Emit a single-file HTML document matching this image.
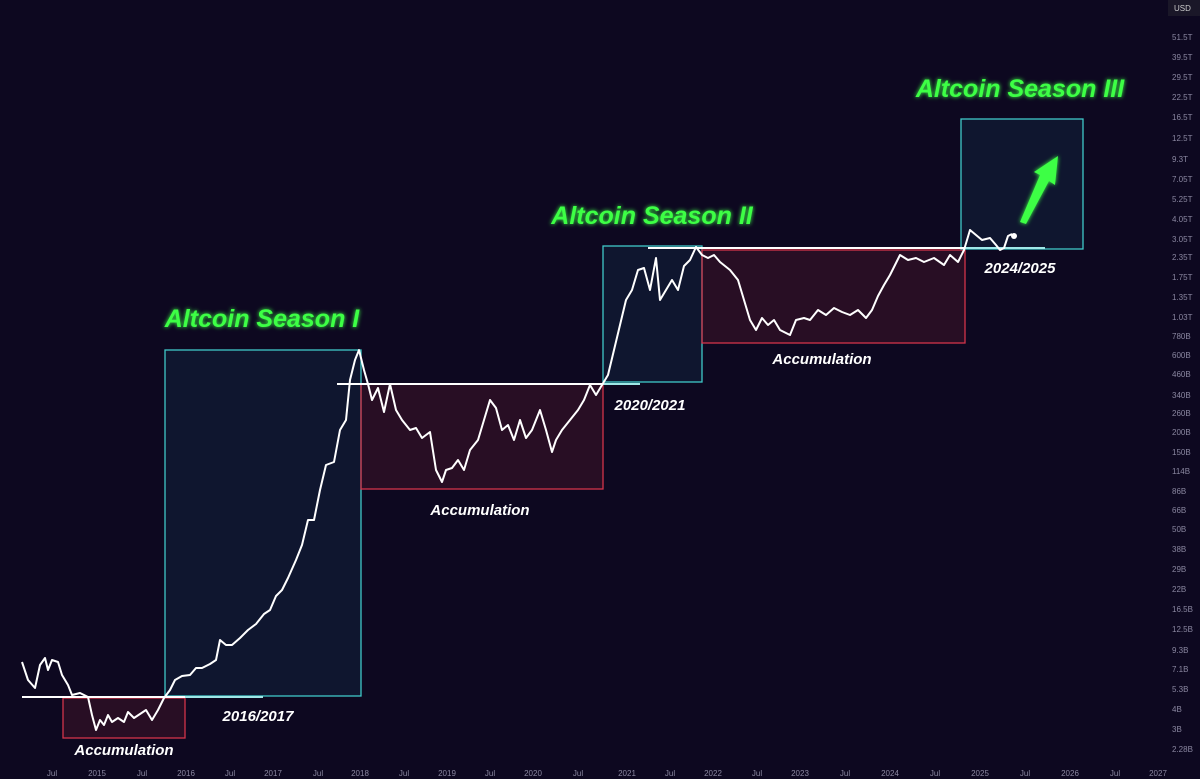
<!DOCTYPE html><html><head><style>
body{margin:0;background:#0d0820;}
svg{display:block}
.g{font-family:"Liberation Sans",sans-serif;font-weight:bold;font-style:italic;font-size:25px;fill:#3dff45;filter:url(#glow)}
.w{font-family:"Liberation Sans",sans-serif;font-weight:bold;font-style:italic;font-size:15px;fill:#fff}
.ax{font-family:"Liberation Sans",sans-serif;font-size:8px;fill:#8a87a0}
</style></head><body>
<svg width="1200" height="779" viewBox="0 0 1200 779">
<defs><filter id="glow"><feGaussianBlur stdDeviation="2" result="b"/><feMerge><feMergeNode in="b"/><feMergeNode in="SourceGraphic"/></feMerge></filter></defs>
<rect width="1200" height="779" fill="#0d0820"/>
<g fill-opacity="0.25" stroke-width="1.3">
<rect x="63" y="698" width="122" height="40" fill="#7a1e2e" stroke="#d2344a"/>
<rect x="165" y="350" width="196" height="346" fill="#16405a" stroke="#3fc8c8"/>
<rect x="361" y="384" width="242" height="105" fill="#7a1e2e" stroke="#d2344a"/>
<rect x="603" y="246" width="99" height="136" fill="#16405a" stroke="#3fc8c8"/>
<rect x="702" y="250" width="263" height="93" fill="#7a1e2e" stroke="#d2344a"/>
<rect x="961" y="119" width="122" height="130" fill="#16405a" stroke="#3fc8c8"/>
</g>
<g stroke-width="2">
<line x1="22" y1="697" x2="185" y2="697" stroke="#fff"/><line x1="185" y1="697" x2="263" y2="697" stroke="#9fe8e8"/>
<line x1="337" y1="384" x2="603" y2="384" stroke="#fff"/><line x1="603" y1="384" x2="640" y2="384" stroke="#9fe8e8"/>
<line x1="648" y1="248" x2="965" y2="248" stroke="#fff"/><line x1="965" y1="248" x2="1045" y2="248" stroke="#9fe8e8"/>
</g>
<polyline fill="none" stroke="#fff" stroke-width="2" stroke-linejoin="round" points="22,662 28,680 35,688 40,665 45,658 48,670 52,660 58,662 62,675 68,685 72,695 80,693 88,697 92,715 96,730 100,720 104,725 108,715 112,722 118,718 124,722 128,712 134,718 140,714 146,710 152,720 158,710 164,698 170,690 175,680 182,676 190,675 196,668 202,668 210,664 216,660 220,640 226,645 232,645 240,638 248,630 256,624 264,614 270,610 276,596 282,590 288,578 296,560 302,545 308,520 314,520 320,490 326,465 334,462 340,430 346,420 350,380 355,360 359,350 364,370 368,384 372,400 378,388 384,412 390,384 396,410 402,420 410,430 416,428 422,438 430,432 436,470 442,482 446,470 452,468 458,460 464,470 470,450 478,440 484,420 490,400 496,408 502,430 508,425 514,440 520,420 526,438 532,430 540,410 546,430 552,452 556,440 562,430 570,420 578,410 584,400 590,385 596,395 602,385 608,375 614,350 620,325 626,300 632,290 638,270 644,268 650,290 656,258 660,300 666,290 672,280 678,290 684,266 690,260 696,247 702,255 708,258 714,255 720,262 730,270 738,280 744,300 750,320 756,330 762,318 768,325 774,320 780,330 790,335 796,320 804,318 810,320 818,310 826,315 834,308 842,312 850,315 858,310 866,318 872,310 878,296 884,285 890,275 900,255 908,260 916,258 924,262 934,258 944,265 950,255 958,262 964,250 970,230 976,235 982,240 990,238 996,245 1000,250 1004,248 1008,236 1012,234"/>
<circle cx="1014" cy="236" r="3" fill="#fff"/>
<polygon points="1020,222 1040,175 1034,172 1058,156 1055,185 1049,181 1026,224" fill="#3dff45" filter="url(#glow)"/>
<text class="g" x="262" y="327" text-anchor="middle">Altcoin Season I</text>
<text class="g" x="652" y="224" text-anchor="middle">Altcoin Season II</text>
<text class="g" x="1020" y="97" text-anchor="middle">Altcoin Season III</text>
<g class="w" text-anchor="middle">
<text x="124" y="755">Accumulation</text><text x="480" y="515">Accumulation</text><text x="822" y="364">Accumulation</text>
<text x="258" y="721">2016/2017</text><text x="650" y="410">2020/2021</text><text x="1020" y="273">2024/2025</text>
</g>
<rect x="1168" y="0" width="32" height="16" fill="#1a1728"/>
<text class="ax" x="1174" y="11" style="fill:#ccc">USD</text>
<g class="ax">
<text x="1172" y="40">51.5T</text><text x="1172" y="60">39.5T</text><text x="1172" y="80">29.5T</text><text x="1172" y="100">22.5T</text><text x="1172" y="120">16.5T</text><text x="1172" y="141">12.5T</text><text x="1172" y="162">9.3T</text><text x="1172" y="182">7.05T</text><text x="1172" y="202">5.25T</text><text x="1172" y="222">4.05T</text><text x="1172" y="242">3.05T</text><text x="1172" y="260">2.35T</text><text x="1172" y="280">1.75T</text><text x="1172" y="300">1.35T</text><text x="1172" y="320">1.03T</text><text x="1172" y="339">780B</text><text x="1172" y="358">600B</text><text x="1172" y="377">460B</text><text x="1172" y="398">340B</text><text x="1172" y="416">260B</text><text x="1172" y="435">200B</text><text x="1172" y="455">150B</text><text x="1172" y="474">114B</text><text x="1172" y="494">86B</text><text x="1172" y="513">66B</text><text x="1172" y="532">50B</text><text x="1172" y="552">38B</text><text x="1172" y="572">29B</text><text x="1172" y="592">22B</text><text x="1172" y="612">16.5B</text><text x="1172" y="632">12.5B</text><text x="1172" y="653">9.3B</text><text x="1172" y="672">7.1B</text><text x="1172" y="692">5.3B</text><text x="1172" y="712">4B</text><text x="1172" y="732">3B</text><text x="1172" y="752">2.28B</text>
</g>
<g class="ax" text-anchor="middle">
<text x="52" y="776">Jul</text><text x="97" y="776">2015</text><text x="142" y="776">Jul</text><text x="186" y="776">2016</text><text x="230" y="776">Jul</text><text x="273" y="776">2017</text><text x="318" y="776">Jul</text><text x="360" y="776">2018</text><text x="404" y="776">Jul</text><text x="447" y="776">2019</text><text x="490" y="776">Jul</text><text x="533" y="776">2020</text><text x="578" y="776">Jul</text><text x="627" y="776">2021</text><text x="670" y="776">Jul</text><text x="713" y="776">2022</text><text x="757" y="776">Jul</text><text x="800" y="776">2023</text><text x="845" y="776">Jul</text><text x="890" y="776">2024</text><text x="935" y="776">Jul</text><text x="980" y="776">2025</text><text x="1025" y="776">Jul</text><text x="1070" y="776">2026</text><text x="1115" y="776">Jul</text><text x="1158" y="776">2027</text>
</g>
</svg></body></html>
